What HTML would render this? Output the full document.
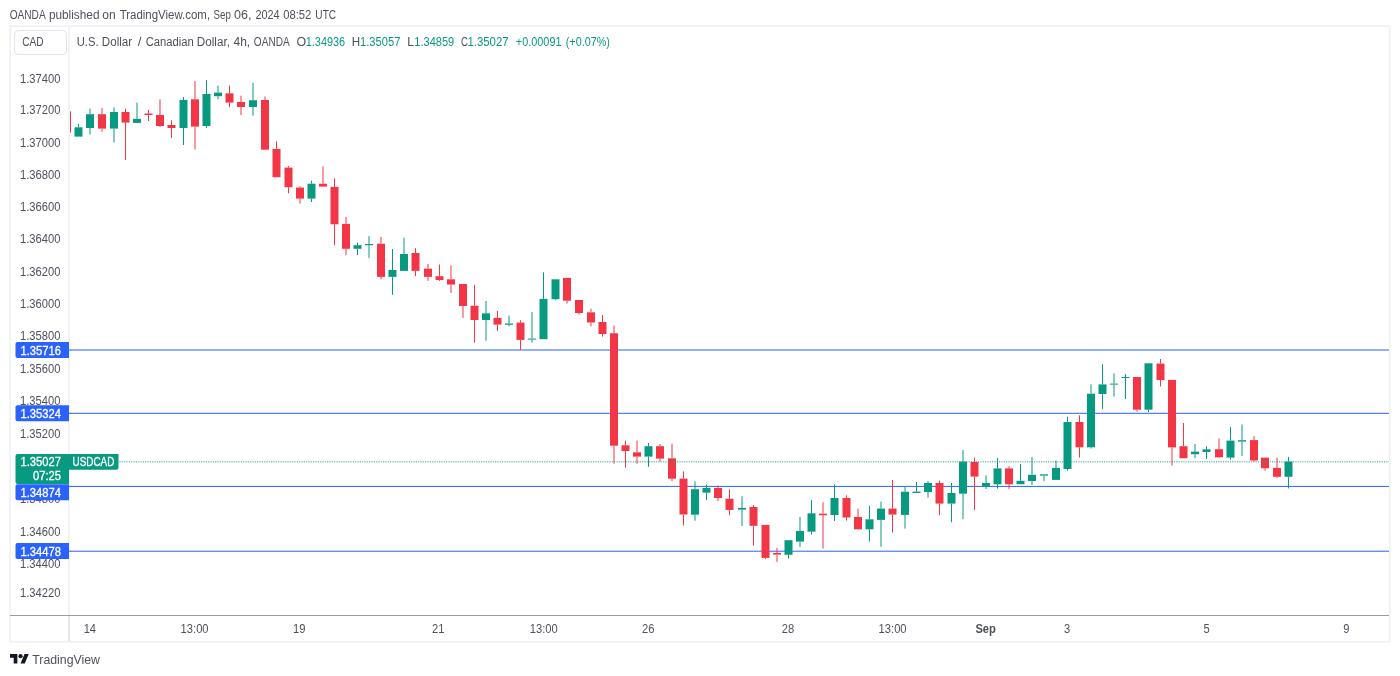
<!DOCTYPE html>
<html><head><meta charset="utf-8"><style>
html,body{margin:0;padding:0;background:#fff;width:1400px;height:676px;overflow:hidden}
svg{display:block;will-change:transform}
text{font-family:"Liberation Sans", Arial, sans-serif;}
</style></head><body>
<svg width="1400" height="676" viewBox="0 0 1400 676">
<rect width="1400" height="676" fill="#fff"/>
<g fill="#4e515c">
<text x="9.64" y="19.30" font-size="12" textLength="36.07" lengthAdjust="spacingAndGlyphs">OANDA</text><text x="48.93" y="19.30" font-size="12" textLength="50.55" lengthAdjust="spacingAndGlyphs">published</text><text x="102.32" y="19.30" font-size="12" textLength="13.39" lengthAdjust="spacingAndGlyphs">on</text><text x="119.67" y="19.30" font-size="12" textLength="90.44" lengthAdjust="spacingAndGlyphs">TradingView.com,</text><text x="213.56" y="19.30" font-size="12" textLength="17.22" lengthAdjust="spacingAndGlyphs">Sep</text><text x="234.10" y="19.30" font-size="12" textLength="17.43" lengthAdjust="spacingAndGlyphs">06,</text><text x="255.46" y="19.30" font-size="12" textLength="24.17" lengthAdjust="spacingAndGlyphs">2024</text><text x="283.15" y="19.30" font-size="12" textLength="28.14" lengthAdjust="spacingAndGlyphs">08:52</text><text x="315.34" y="19.30" font-size="12" textLength="20.82" lengthAdjust="spacingAndGlyphs">UTC</text>
</g>
<rect x="10.1" y="26.1" width="1379.7" height="615.7" fill="none" stroke="#eceef2" stroke-width="1.4"/>
<rect x="68.2" y="27" width="1.5" height="589" fill="#eeeff2"/>
<rect x="68.2" y="616" width="1.5" height="25" fill="#dcdee3"/>
<rect x="10" y="615" width="1379" height="1" fill="#989ba4"/>
<defs><clipPath id="ca"><rect x="70" y="27" width="1319" height="588"/></clipPath></defs>
<g clip-path="url(#ca)">
<rect x="70" y="349.5" width="1319" height="1" fill="#2962ff"/>
<rect x="70" y="412.8" width="1319" height="1" fill="#2962ff"/>
<rect x="70" y="485.9" width="1319" height="1" fill="#2962ff"/>
<rect x="70" y="550.7" width="1319" height="1" fill="#2962ff"/>
<rect x="63.0" y="111.3" width="8" height="21.3" fill="#f23645"/>
<rect x="78.0" y="124.0" width="1" height="3.3" fill="#089981"/>
<rect x="74.5" y="127.3" width="8" height="9.3" fill="#089981"/>
<rect x="89.5" y="108.6" width="1" height="5.6" fill="#089981"/>
<rect x="89.5" y="128.0" width="1" height="6.6" fill="#089981"/>
<rect x="86.0" y="114.2" width="8" height="13.8" fill="#089981"/>
<rect x="101.5" y="108.0" width="1" height="6.2" fill="#f23645"/>
<rect x="101.5" y="128.6" width="1" height="3.1" fill="#f23645"/>
<rect x="98.0" y="114.2" width="8" height="14.4" fill="#f23645"/>
<rect x="113.5" y="107.3" width="1" height="4.7" fill="#089981"/>
<rect x="113.5" y="128.6" width="1" height="14.0" fill="#089981"/>
<rect x="110.0" y="112.0" width="8" height="16.6" fill="#089981"/>
<rect x="125.0" y="108.6" width="1" height="3.4" fill="#f23645"/>
<rect x="125.0" y="122.6" width="1" height="37.3" fill="#f23645"/>
<rect x="121.5" y="112.0" width="8" height="10.6" fill="#f23645"/>
<rect x="136.5" y="102.6" width="1" height="16.3" fill="#089981"/>
<rect x="133.0" y="118.9" width="8" height="4.0" fill="#089981"/>
<rect x="148.0" y="110.0" width="1" height="3.5" fill="#f23645"/>
<rect x="148.0" y="115.0" width="1" height="6.0" fill="#f23645"/>
<rect x="144.5" y="113.5" width="8" height="1.5" fill="#f23645"/>
<rect x="159.5" y="99.3" width="1" height="15.7" fill="#f23645"/>
<rect x="159.5" y="126.0" width="1" height="1.0" fill="#f23645"/>
<rect x="156.0" y="115.0" width="8" height="11.0" fill="#f23645"/>
<rect x="171.0" y="120.3" width="1" height="4.7" fill="#f23645"/>
<rect x="171.0" y="128.0" width="1" height="9.9" fill="#f23645"/>
<rect x="167.5" y="125.0" width="8" height="3.0" fill="#f23645"/>
<rect x="183.0" y="97.0" width="1" height="3.0" fill="#089981"/>
<rect x="183.0" y="128.0" width="1" height="17.0" fill="#089981"/>
<rect x="179.5" y="100.0" width="8" height="28.0" fill="#089981"/>
<rect x="194.5" y="81.0" width="1" height="18.3" fill="#f23645"/>
<rect x="194.5" y="126.6" width="1" height="22.9" fill="#f23645"/>
<rect x="191.0" y="99.3" width="8" height="27.3" fill="#f23645"/>
<rect x="206.0" y="80.0" width="1" height="14.0" fill="#089981"/>
<rect x="206.0" y="126.0" width="1" height="2.0" fill="#089981"/>
<rect x="202.5" y="94.0" width="8" height="32.0" fill="#089981"/>
<rect x="217.5" y="85.6" width="1" height="7.0" fill="#089981"/>
<rect x="217.5" y="96.2" width="1" height="3.1" fill="#089981"/>
<rect x="214.0" y="92.6" width="8" height="3.6" fill="#089981"/>
<rect x="229.0" y="85.6" width="1" height="7.7" fill="#f23645"/>
<rect x="229.0" y="102.6" width="1" height="4.7" fill="#f23645"/>
<rect x="225.5" y="93.3" width="8" height="9.3" fill="#f23645"/>
<rect x="240.5" y="95.7" width="1" height="6.3" fill="#f23645"/>
<rect x="240.5" y="107.0" width="1" height="7.9" fill="#f23645"/>
<rect x="237.0" y="102.0" width="8" height="5.0" fill="#f23645"/>
<rect x="252.5" y="82.7" width="1" height="17.5" fill="#089981"/>
<rect x="252.5" y="107.0" width="1" height="8.7" fill="#089981"/>
<rect x="249.0" y="100.2" width="8" height="6.8" fill="#089981"/>
<rect x="264.5" y="96.5" width="1" height="3.5" fill="#f23645"/>
<rect x="261.0" y="100.0" width="8" height="49.7" fill="#f23645"/>
<rect x="276.0" y="141.3" width="1" height="7.6" fill="#f23645"/>
<rect x="272.5" y="148.9" width="8" height="28.3" fill="#f23645"/>
<rect x="288.0" y="166.0" width="1" height="1.6" fill="#f23645"/>
<rect x="288.0" y="187.2" width="1" height="6.1" fill="#f23645"/>
<rect x="284.5" y="167.6" width="8" height="19.6" fill="#f23645"/>
<rect x="299.5" y="186.2" width="1" height="1.4" fill="#f23645"/>
<rect x="299.5" y="198.6" width="1" height="5.0" fill="#f23645"/>
<rect x="296.0" y="187.6" width="8" height="11.0" fill="#f23645"/>
<rect x="311.0" y="180.6" width="1" height="3.1" fill="#089981"/>
<rect x="311.0" y="198.6" width="1" height="3.4" fill="#089981"/>
<rect x="307.5" y="183.7" width="8" height="14.9" fill="#089981"/>
<rect x="322.5" y="166.5" width="1" height="17.2" fill="#f23645"/>
<rect x="319.0" y="183.7" width="8" height="2.9" fill="#f23645"/>
<rect x="334.0" y="178.3" width="1" height="8.6" fill="#f23645"/>
<rect x="334.0" y="224.3" width="1" height="20.9" fill="#f23645"/>
<rect x="330.5" y="186.9" width="8" height="37.4" fill="#f23645"/>
<rect x="345.5" y="216.9" width="1" height="7.0" fill="#f23645"/>
<rect x="345.5" y="248.8" width="1" height="6.4" fill="#f23645"/>
<rect x="342.0" y="223.9" width="8" height="24.9" fill="#f23645"/>
<rect x="357.0" y="242.6" width="1" height="2.6" fill="#089981"/>
<rect x="357.0" y="248.8" width="1" height="6.4" fill="#089981"/>
<rect x="353.5" y="245.2" width="8" height="3.6" fill="#089981"/>
<rect x="368.5" y="236.2" width="1" height="7.8" fill="#089981"/>
<rect x="368.5" y="245.2" width="1" height="12.7" fill="#089981"/>
<rect x="365.0" y="244.0" width="8" height="1.2" fill="#089981"/>
<rect x="380.5" y="236.9" width="1" height="6.8" fill="#f23645"/>
<rect x="380.5" y="276.9" width="1" height="2.4" fill="#f23645"/>
<rect x="377.0" y="243.7" width="8" height="33.2" fill="#f23645"/>
<rect x="392.0" y="249.0" width="1" height="21.0" fill="#089981"/>
<rect x="392.0" y="276.9" width="1" height="17.9" fill="#089981"/>
<rect x="388.5" y="270.0" width="8" height="6.9" fill="#089981"/>
<rect x="403.5" y="237.7" width="1" height="16.3" fill="#089981"/>
<rect x="400.0" y="254.0" width="8" height="16.9" fill="#089981"/>
<rect x="415.0" y="248.2" width="1" height="4.8" fill="#f23645"/>
<rect x="415.0" y="270.9" width="1" height="5.3" fill="#f23645"/>
<rect x="411.5" y="253.0" width="8" height="17.9" fill="#f23645"/>
<rect x="427.5" y="264.0" width="1" height="4.6" fill="#f23645"/>
<rect x="427.5" y="276.9" width="1" height="4.0" fill="#f23645"/>
<rect x="424.0" y="268.6" width="8" height="8.3" fill="#f23645"/>
<rect x="439.0" y="264.6" width="1" height="11.6" fill="#f23645"/>
<rect x="439.0" y="280.0" width="1" height="0.9" fill="#f23645"/>
<rect x="435.5" y="276.2" width="8" height="3.8" fill="#f23645"/>
<rect x="450.5" y="265.3" width="1" height="14.0" fill="#f23645"/>
<rect x="450.5" y="284.6" width="1" height="8.4" fill="#f23645"/>
<rect x="447.0" y="279.3" width="8" height="5.3" fill="#f23645"/>
<rect x="462.5" y="306.0" width="1" height="11.8" fill="#f23645"/>
<rect x="459.0" y="284.0" width="8" height="22.0" fill="#f23645"/>
<rect x="474.0" y="284.9" width="1" height="20.8" fill="#f23645"/>
<rect x="474.0" y="320.0" width="1" height="22.6" fill="#f23645"/>
<rect x="470.5" y="305.7" width="8" height="14.3" fill="#f23645"/>
<rect x="485.5" y="301.0" width="1" height="12.3" fill="#089981"/>
<rect x="485.5" y="320.0" width="1" height="20.8" fill="#089981"/>
<rect x="482.0" y="313.3" width="8" height="6.7" fill="#089981"/>
<rect x="497.0" y="311.0" width="1" height="6.9" fill="#f23645"/>
<rect x="497.0" y="324.6" width="1" height="6.4" fill="#f23645"/>
<rect x="493.5" y="317.9" width="8" height="6.7" fill="#f23645"/>
<rect x="508.5" y="315.5" width="1" height="8.0" fill="#089981"/>
<rect x="508.5" y="324.8" width="1" height="1.4" fill="#089981"/>
<rect x="505.0" y="323.5" width="8" height="1.3" fill="#089981"/>
<rect x="520.0" y="320.2" width="1" height="2.4" fill="#f23645"/>
<rect x="520.0" y="339.9" width="1" height="10.0" fill="#f23645"/>
<rect x="516.5" y="322.6" width="8" height="17.3" fill="#f23645"/>
<rect x="531.5" y="312.0" width="1" height="26.6" fill="#089981"/>
<rect x="531.5" y="339.6" width="1" height="3.0" fill="#089981"/>
<rect x="528.0" y="338.6" width="8" height="1.0" fill="#089981"/>
<rect x="543.0" y="272.4" width="1" height="26.5" fill="#089981"/>
<rect x="539.5" y="298.9" width="8" height="40.3" fill="#089981"/>
<rect x="555.0" y="299.2" width="1" height="0.8" fill="#089981"/>
<rect x="551.5" y="279.3" width="8" height="19.9" fill="#089981"/>
<rect x="566.5" y="300.7" width="1" height="2.9" fill="#f23645"/>
<rect x="563.0" y="277.9" width="8" height="22.8" fill="#f23645"/>
<rect x="578.5" y="313.0" width="1" height="1.5" fill="#f23645"/>
<rect x="575.0" y="300.0" width="8" height="13.0" fill="#f23645"/>
<rect x="590.5" y="308.7" width="1" height="3.6" fill="#f23645"/>
<rect x="590.5" y="322.5" width="1" height="3.8" fill="#f23645"/>
<rect x="587.0" y="312.3" width="8" height="10.2" fill="#f23645"/>
<rect x="602.0" y="315.0" width="1" height="7.0" fill="#f23645"/>
<rect x="602.0" y="334.0" width="1" height="2.6" fill="#f23645"/>
<rect x="598.5" y="322.0" width="8" height="12.0" fill="#f23645"/>
<rect x="613.5" y="325.6" width="1" height="7.6" fill="#f23645"/>
<rect x="613.5" y="445.7" width="1" height="17.9" fill="#f23645"/>
<rect x="610.0" y="333.2" width="8" height="112.5" fill="#f23645"/>
<rect x="625.0" y="440.6" width="1" height="4.7" fill="#f23645"/>
<rect x="625.0" y="451.0" width="1" height="16.6" fill="#f23645"/>
<rect x="621.5" y="445.3" width="8" height="5.7" fill="#f23645"/>
<rect x="636.5" y="440.6" width="1" height="11.7" fill="#f23645"/>
<rect x="636.5" y="456.6" width="1" height="7.0" fill="#f23645"/>
<rect x="633.0" y="452.3" width="8" height="4.3" fill="#f23645"/>
<rect x="648.0" y="443.0" width="1" height="3.2" fill="#089981"/>
<rect x="648.0" y="456.6" width="1" height="10.2" fill="#089981"/>
<rect x="644.5" y="446.2" width="8" height="10.4" fill="#089981"/>
<rect x="659.5" y="444.0" width="1" height="2.2" fill="#f23645"/>
<rect x="659.5" y="458.6" width="1" height="2.9" fill="#f23645"/>
<rect x="656.0" y="446.2" width="8" height="12.4" fill="#f23645"/>
<rect x="671.5" y="443.7" width="1" height="14.6" fill="#f23645"/>
<rect x="671.5" y="478.7" width="1" height="2.5" fill="#f23645"/>
<rect x="668.0" y="458.3" width="8" height="20.4" fill="#f23645"/>
<rect x="683.0" y="471.4" width="1" height="7.2" fill="#f23645"/>
<rect x="683.0" y="514.5" width="1" height="11.1" fill="#f23645"/>
<rect x="679.5" y="478.6" width="8" height="35.9" fill="#f23645"/>
<rect x="694.5" y="481.4" width="1" height="7.8" fill="#089981"/>
<rect x="694.5" y="514.7" width="1" height="6.0" fill="#089981"/>
<rect x="691.0" y="489.2" width="8" height="25.5" fill="#089981"/>
<rect x="706.0" y="484.7" width="1" height="3.2" fill="#089981"/>
<rect x="706.0" y="492.7" width="1" height="7.2" fill="#089981"/>
<rect x="702.5" y="487.9" width="8" height="4.8" fill="#089981"/>
<rect x="717.5" y="485.6" width="1" height="2.3" fill="#f23645"/>
<rect x="717.5" y="498.0" width="1" height="3.2" fill="#f23645"/>
<rect x="714.0" y="487.9" width="8" height="10.1" fill="#f23645"/>
<rect x="729.0" y="489.4" width="1" height="9.3" fill="#f23645"/>
<rect x="729.0" y="509.9" width="1" height="5.4" fill="#f23645"/>
<rect x="725.5" y="498.7" width="8" height="11.2" fill="#f23645"/>
<rect x="741.5" y="496.3" width="1" height="11.6" fill="#089981"/>
<rect x="741.5" y="509.6" width="1" height="16.4" fill="#089981"/>
<rect x="738.0" y="507.9" width="8" height="1.7" fill="#089981"/>
<rect x="753.0" y="505.2" width="1" height="1.8" fill="#f23645"/>
<rect x="753.0" y="525.8" width="1" height="19.8" fill="#f23645"/>
<rect x="749.5" y="507.0" width="8" height="18.8" fill="#f23645"/>
<rect x="765.0" y="557.9" width="1" height="1.3" fill="#f23645"/>
<rect x="761.5" y="524.9" width="8" height="33.0" fill="#f23645"/>
<rect x="776.5" y="547.9" width="1" height="5.1" fill="#f23645"/>
<rect x="776.5" y="554.6" width="1" height="7.3" fill="#f23645"/>
<rect x="773.0" y="553.0" width="8" height="1.6" fill="#f23645"/>
<rect x="788.0" y="554.8" width="1" height="3.8" fill="#089981"/>
<rect x="784.5" y="540.2" width="8" height="14.6" fill="#089981"/>
<rect x="799.5" y="516.9" width="1" height="14.1" fill="#089981"/>
<rect x="799.5" y="541.6" width="1" height="5.4" fill="#089981"/>
<rect x="796.0" y="531.0" width="8" height="10.6" fill="#089981"/>
<rect x="811.0" y="500.0" width="1" height="13.3" fill="#089981"/>
<rect x="811.0" y="531.7" width="1" height="2.9" fill="#089981"/>
<rect x="807.5" y="513.3" width="8" height="18.4" fill="#089981"/>
<rect x="822.5" y="502.2" width="1" height="11.5" fill="#f23645"/>
<rect x="822.5" y="515.3" width="1" height="33.3" fill="#f23645"/>
<rect x="819.0" y="513.7" width="8" height="1.6" fill="#f23645"/>
<rect x="834.0" y="484.4" width="1" height="13.6" fill="#089981"/>
<rect x="834.0" y="515.0" width="1" height="5.9" fill="#089981"/>
<rect x="830.5" y="498.0" width="8" height="17.0" fill="#089981"/>
<rect x="846.0" y="495.3" width="1" height="2.7" fill="#f23645"/>
<rect x="846.0" y="517.5" width="1" height="3.1" fill="#f23645"/>
<rect x="842.5" y="498.0" width="8" height="19.5" fill="#f23645"/>
<rect x="857.5" y="508.6" width="1" height="8.4" fill="#f23645"/>
<rect x="857.5" y="529.3" width="1" height="0.3" fill="#f23645"/>
<rect x="854.0" y="517.0" width="8" height="12.3" fill="#f23645"/>
<rect x="869.0" y="506.0" width="1" height="13.3" fill="#089981"/>
<rect x="869.0" y="529.3" width="1" height="12.2" fill="#089981"/>
<rect x="865.5" y="519.3" width="8" height="10.0" fill="#089981"/>
<rect x="880.5" y="501.6" width="1" height="7.0" fill="#089981"/>
<rect x="880.5" y="519.9" width="1" height="26.9" fill="#089981"/>
<rect x="877.0" y="508.6" width="8" height="11.3" fill="#089981"/>
<rect x="892.0" y="480.0" width="1" height="28.6" fill="#f23645"/>
<rect x="892.0" y="514.6" width="1" height="18.0" fill="#f23645"/>
<rect x="888.5" y="508.6" width="8" height="6.0" fill="#f23645"/>
<rect x="904.5" y="486.6" width="1" height="5.1" fill="#089981"/>
<rect x="904.5" y="514.9" width="1" height="13.7" fill="#089981"/>
<rect x="901.0" y="491.7" width="8" height="23.2" fill="#089981"/>
<rect x="916.0" y="482.0" width="1" height="9.6" fill="#089981"/>
<rect x="912.5" y="491.6" width="8" height="1.4" fill="#089981"/>
<rect x="927.5" y="481.0" width="1" height="2.0" fill="#089981"/>
<rect x="927.5" y="492.0" width="1" height="5.6" fill="#089981"/>
<rect x="924.0" y="483.0" width="8" height="9.0" fill="#089981"/>
<rect x="939.0" y="480.6" width="1" height="2.4" fill="#f23645"/>
<rect x="939.0" y="503.6" width="1" height="11.6" fill="#f23645"/>
<rect x="935.5" y="483.0" width="8" height="20.6" fill="#f23645"/>
<rect x="951.0" y="483.0" width="1" height="10.0" fill="#089981"/>
<rect x="951.0" y="503.6" width="1" height="18.6" fill="#089981"/>
<rect x="947.5" y="493.0" width="8" height="10.6" fill="#089981"/>
<rect x="962.5" y="450.0" width="1" height="11.6" fill="#089981"/>
<rect x="962.5" y="493.7" width="1" height="25.5" fill="#089981"/>
<rect x="959.0" y="461.6" width="8" height="32.1" fill="#089981"/>
<rect x="974.0" y="457.6" width="1" height="4.4" fill="#f23645"/>
<rect x="974.0" y="476.6" width="1" height="33.3" fill="#f23645"/>
<rect x="970.5" y="462.0" width="8" height="14.6" fill="#f23645"/>
<rect x="985.5" y="475.3" width="1" height="7.7" fill="#089981"/>
<rect x="985.5" y="486.6" width="1" height="2.4" fill="#089981"/>
<rect x="982.0" y="483.0" width="8" height="3.6" fill="#089981"/>
<rect x="997.0" y="458.0" width="1" height="10.4" fill="#089981"/>
<rect x="997.0" y="484.3" width="1" height="4.3" fill="#089981"/>
<rect x="993.5" y="468.4" width="8" height="15.9" fill="#089981"/>
<rect x="1008.5" y="466.2" width="1" height="2.2" fill="#f23645"/>
<rect x="1008.5" y="484.3" width="1" height="4.7" fill="#f23645"/>
<rect x="1005.0" y="468.4" width="8" height="15.9" fill="#f23645"/>
<rect x="1020.0" y="463.9" width="1" height="16.9" fill="#089981"/>
<rect x="1016.5" y="480.8" width="8" height="3.4" fill="#089981"/>
<rect x="1031.5" y="457.0" width="1" height="17.8" fill="#089981"/>
<rect x="1031.5" y="481.0" width="1" height="4.0" fill="#089981"/>
<rect x="1028.0" y="474.8" width="8" height="6.2" fill="#089981"/>
<rect x="1043.5" y="475.6" width="1" height="5.6" fill="#089981"/>
<rect x="1040.0" y="474.3" width="8" height="1.3" fill="#089981"/>
<rect x="1055.5" y="460.6" width="1" height="7.3" fill="#089981"/>
<rect x="1052.0" y="467.9" width="8" height="12.0" fill="#089981"/>
<rect x="1067.0" y="416.6" width="1" height="5.4" fill="#089981"/>
<rect x="1067.0" y="469.0" width="1" height="1.6" fill="#089981"/>
<rect x="1063.5" y="422.0" width="8" height="47.0" fill="#089981"/>
<rect x="1079.0" y="415.3" width="1" height="6.7" fill="#f23645"/>
<rect x="1079.0" y="447.3" width="1" height="10.2" fill="#f23645"/>
<rect x="1075.5" y="422.0" width="8" height="25.3" fill="#f23645"/>
<rect x="1090.5" y="384.4" width="1" height="9.3" fill="#089981"/>
<rect x="1090.5" y="447.3" width="1" height="1.3" fill="#089981"/>
<rect x="1087.0" y="393.7" width="8" height="53.6" fill="#089981"/>
<rect x="1102.0" y="364.3" width="1" height="20.1" fill="#089981"/>
<rect x="1102.0" y="394.0" width="1" height="14.9" fill="#089981"/>
<rect x="1098.5" y="384.4" width="8" height="9.6" fill="#089981"/>
<rect x="1113.5" y="373.3" width="1" height="10.3" fill="#089981"/>
<rect x="1113.5" y="384.6" width="1" height="12.0" fill="#089981"/>
<rect x="1110.0" y="383.6" width="8" height="1.0" fill="#089981"/>
<rect x="1125.0" y="374.0" width="1" height="3.0" fill="#089981"/>
<rect x="1125.0" y="378.0" width="1" height="20.9" fill="#089981"/>
<rect x="1121.5" y="377.0" width="8" height="1.0" fill="#089981"/>
<rect x="1136.5" y="409.7" width="1" height="2.0" fill="#f23645"/>
<rect x="1133.0" y="377.0" width="8" height="32.7" fill="#f23645"/>
<rect x="1148.0" y="409.7" width="1" height="2.3" fill="#089981"/>
<rect x="1144.5" y="363.3" width="8" height="46.4" fill="#089981"/>
<rect x="1160.0" y="359.0" width="1" height="4.6" fill="#f23645"/>
<rect x="1160.0" y="380.0" width="1" height="6.4" fill="#f23645"/>
<rect x="1156.5" y="363.6" width="8" height="16.4" fill="#f23645"/>
<rect x="1171.5" y="447.4" width="1" height="18.1" fill="#f23645"/>
<rect x="1168.0" y="379.9" width="8" height="67.5" fill="#f23645"/>
<rect x="1183.0" y="423.0" width="1" height="23.2" fill="#f23645"/>
<rect x="1179.5" y="446.2" width="8" height="12.0" fill="#f23645"/>
<rect x="1194.5" y="444.0" width="1" height="7.6" fill="#089981"/>
<rect x="1194.5" y="454.2" width="1" height="4.0" fill="#089981"/>
<rect x="1191.0" y="451.6" width="8" height="2.6" fill="#089981"/>
<rect x="1206.0" y="446.2" width="1" height="3.1" fill="#089981"/>
<rect x="1206.0" y="452.0" width="1" height="6.9" fill="#089981"/>
<rect x="1202.5" y="449.3" width="8" height="2.7" fill="#089981"/>
<rect x="1218.5" y="438.5" width="1" height="10.7" fill="#f23645"/>
<rect x="1218.5" y="457.3" width="1" height="0.7" fill="#f23645"/>
<rect x="1215.0" y="449.2" width="8" height="8.1" fill="#f23645"/>
<rect x="1230.0" y="427.0" width="1" height="13.6" fill="#089981"/>
<rect x="1230.0" y="457.6" width="1" height="2.0" fill="#089981"/>
<rect x="1226.5" y="440.6" width="8" height="17.0" fill="#089981"/>
<rect x="1241.5" y="424.5" width="1" height="15.7" fill="#089981"/>
<rect x="1241.5" y="441.6" width="1" height="14.4" fill="#089981"/>
<rect x="1238.0" y="440.2" width="8" height="1.4" fill="#089981"/>
<rect x="1253.5" y="436.0" width="1" height="4.1" fill="#f23645"/>
<rect x="1253.5" y="460.5" width="1" height="1.1" fill="#f23645"/>
<rect x="1250.0" y="440.1" width="8" height="20.4" fill="#f23645"/>
<rect x="1264.5" y="468.3" width="1" height="2.3" fill="#f23645"/>
<rect x="1261.0" y="457.6" width="8" height="10.7" fill="#f23645"/>
<rect x="1276.5" y="457.6" width="1" height="10.3" fill="#f23645"/>
<rect x="1276.5" y="476.8" width="1" height="1.2" fill="#f23645"/>
<rect x="1273.0" y="467.9" width="8" height="8.9" fill="#f23645"/>
<rect x="1288.0" y="456.9" width="1" height="4.7" fill="#089981"/>
<rect x="1288.0" y="476.8" width="1" height="11.6" fill="#089981"/>
<rect x="1284.5" y="461.6" width="8" height="15.2" fill="#089981"/>
<line x1="70.5" y1="461.8" x2="1389" y2="461.8" stroke="#089981" stroke-opacity="0.62" stroke-width="1.4" stroke-dasharray="1.1 1.233"/>
</g>
<g fill="#4e515c">
<text x="20.06" y="82.65" font-size="12" textLength="40.43" lengthAdjust="spacingAndGlyphs">1.37400</text>
<text x="20.06" y="114.35" font-size="12" textLength="40.43" lengthAdjust="spacingAndGlyphs">1.37200</text>
<text x="20.06" y="146.65" font-size="12" textLength="40.43" lengthAdjust="spacingAndGlyphs">1.37000</text>
<text x="20.06" y="178.85" font-size="12" textLength="40.43" lengthAdjust="spacingAndGlyphs">1.36800</text>
<text x="20.06" y="210.75" font-size="12" textLength="40.43" lengthAdjust="spacingAndGlyphs">1.36600</text>
<text x="20.06" y="243.25" font-size="12" textLength="40.43" lengthAdjust="spacingAndGlyphs">1.36400</text>
<text x="20.06" y="275.85" font-size="12" textLength="40.43" lengthAdjust="spacingAndGlyphs">1.36200</text>
<text x="20.06" y="308.05" font-size="12" textLength="40.43" lengthAdjust="spacingAndGlyphs">1.36000</text>
<text x="20.06" y="340.25" font-size="12" textLength="40.43" lengthAdjust="spacingAndGlyphs">1.35800</text>
<text x="20.06" y="373.15" font-size="12" textLength="40.43" lengthAdjust="spacingAndGlyphs">1.35600</text>
<text x="20.06" y="405.25" font-size="12" textLength="40.43" lengthAdjust="spacingAndGlyphs">1.35400</text>
<text x="20.06" y="437.95" font-size="12" textLength="40.43" lengthAdjust="spacingAndGlyphs">1.35200</text>
<text x="20.06" y="503.25" font-size="12" textLength="40.43" lengthAdjust="spacingAndGlyphs">1.34800</text>
<text x="20.06" y="535.95" font-size="12" textLength="40.43" lengthAdjust="spacingAndGlyphs">1.34600</text>
<text x="20.06" y="568.25" font-size="12" textLength="40.43" lengthAdjust="spacingAndGlyphs">1.34400</text>
<text x="20.06" y="597.45" font-size="12" textLength="40.43" lengthAdjust="spacingAndGlyphs">1.34220</text>
</g>
<rect x="68.5" y="349.5" width="2" height="1" fill="#2962ff"/><path d="M69 342.0 H17.5 a2 2 0 0 0 -2 2 V356.0 a2 2 0 0 0 2 2 H69 Z" fill="#2962ff"/><text x="20.46" y="354.85" font-size="12" textLength="40.43" lengthAdjust="spacingAndGlyphs" fill="#fff" stroke="#fff" stroke-width="0.3">1.35716</text>
<rect x="68.5" y="412.8" width="2" height="1" fill="#2962ff"/><path d="M69 405.3 H17.5 a2 2 0 0 0 -2 2 V419.3 a2 2 0 0 0 2 2 H69 Z" fill="#2962ff"/><text x="20.46" y="418.15" font-size="12" textLength="40.43" lengthAdjust="spacingAndGlyphs" fill="#fff" stroke="#fff" stroke-width="0.3">1.35324</text>
<rect x="68.5" y="485.9" width="2" height="1" fill="#2962ff"/><path d="M69 484.2 H17.5 a2 2 0 0 0 -2 2 V498.2 a2 2 0 0 0 2 2 H69 Z" fill="#2962ff"/><text x="20.46" y="497.05" font-size="12" textLength="40.43" lengthAdjust="spacingAndGlyphs" fill="#fff" stroke="#fff" stroke-width="0.3">1.34874</text>
<rect x="68.5" y="550.7" width="2" height="1" fill="#2962ff"/><path d="M69 543.0 H17.5 a2 2 0 0 0 -2 2 V557.0 a2 2 0 0 0 2 2 H69 Z" fill="#2962ff"/><text x="20.46" y="555.85" font-size="12" textLength="40.43" lengthAdjust="spacingAndGlyphs" fill="#fff" stroke="#fff" stroke-width="0.3">1.34478</text>
<path d="M118.5 454 V467.8 a2 2 0 0 1 -2 2 H69 V484 H17.5 a2 2 0 0 1 -2 -2 V456 a2 2 0 0 1 2 -2 Z" fill="#089981"/>
<text x="20.56" y="465.70" font-size="12" textLength="40.43" lengthAdjust="spacingAndGlyphs" fill="#fff" stroke="#fff" stroke-width="0.3">1.35027</text>
<text x="33.00" y="479.70" font-size="12" textLength="27.99" lengthAdjust="spacingAndGlyphs" fill="#fff" stroke="#fff" stroke-width="0.3">07:25</text>
<text x="72.56" y="465.70" font-size="12" textLength="41.82" lengthAdjust="spacingAndGlyphs" fill="#fff" stroke="#fff" stroke-width="0.3">USDCAD</text>
<g fill="#4e515c">
<text x="83.64" y="633.00" font-size="12" textLength="12.44" lengthAdjust="spacingAndGlyphs">14</text>
<text x="180.60" y="633.00" font-size="12" textLength="27.99" lengthAdjust="spacingAndGlyphs">13:00</text>
<text x="293.03" y="633.00" font-size="12" textLength="12.44" lengthAdjust="spacingAndGlyphs">19</text>
<text x="432.06" y="633.00" font-size="12" textLength="12.44" lengthAdjust="spacingAndGlyphs">21</text>
<text x="529.70" y="633.00" font-size="12" textLength="27.99" lengthAdjust="spacingAndGlyphs">13:00</text>
<text x="642.04" y="633.00" font-size="12" textLength="12.44" lengthAdjust="spacingAndGlyphs">26</text>
<text x="781.74" y="633.00" font-size="12" textLength="12.44" lengthAdjust="spacingAndGlyphs">28</text>
<text x="878.60" y="633.00" font-size="12" textLength="27.99" lengthAdjust="spacingAndGlyphs">13:00</text>
<text x="975.39" y="633.00" font-size="12" textLength="20.51" lengthAdjust="spacingAndGlyphs" font-weight="bold">Sep</text>
<text x="1064.00" y="633.00" font-size="12" textLength="6.22" lengthAdjust="spacingAndGlyphs">3</text>
<text x="1203.50" y="633.00" font-size="12" textLength="6.22" lengthAdjust="spacingAndGlyphs">5</text>
<text x="1343.30" y="633.00" font-size="12" textLength="6.22" lengthAdjust="spacingAndGlyphs">9</text>
</g>
<rect x="14.5" y="30.5" width="52" height="24" rx="4" fill="#fff" stroke="#e0e3eb"/>
<g fill="#4e515c">
<text x="22.19" y="46.10" font-size="12" textLength="21.48" lengthAdjust="spacingAndGlyphs">CAD</text>
<text x="76.76" y="46.00" font-size="12" textLength="21.80" lengthAdjust="spacingAndGlyphs">U.S.</text><text x="101.87" y="46.00" font-size="12" textLength="30.33" lengthAdjust="spacingAndGlyphs">Dollar</text><text x="137.70" y="46.00" font-size="12" textLength="3.67" lengthAdjust="spacingAndGlyphs">/</text><text x="145.74" y="46.00" font-size="12" textLength="48.11" lengthAdjust="spacingAndGlyphs">Canadian</text><text x="196.76" y="46.00" font-size="12" textLength="33.19" lengthAdjust="spacingAndGlyphs">Dollar,</text><text x="233.46" y="46.00" font-size="12" textLength="16.73" lengthAdjust="spacingAndGlyphs">4h,</text><text x="253.85" y="46.00" font-size="12" textLength="35.87" lengthAdjust="spacingAndGlyphs">OANDA</text><text x="296.54" y="46.00" font-size="12" textLength="9.65" lengthAdjust="spacingAndGlyphs">O</text><text x="305.78" y="46.00" font-size="12" textLength="39.35" lengthAdjust="spacingAndGlyphs" fill="#089981">1.34936</text><text x="351.87" y="46.00" font-size="12" textLength="8.38" lengthAdjust="spacingAndGlyphs">H</text><text x="360.06" y="46.00" font-size="12" textLength="40.29" lengthAdjust="spacingAndGlyphs" fill="#089981">1.35057</text><text x="407.33" y="46.00" font-size="12" textLength="6.75" lengthAdjust="spacingAndGlyphs">L</text><text x="414.37" y="46.00" font-size="12" textLength="39.82" lengthAdjust="spacingAndGlyphs" fill="#089981">1.34859</text><text x="460.92" y="46.00" font-size="12" textLength="6.94" lengthAdjust="spacingAndGlyphs">C</text><text x="467.44" y="46.00" font-size="12" textLength="41.22" lengthAdjust="spacingAndGlyphs" fill="#089981">1.35027</text><text x="515.86" y="46.00" font-size="12" textLength="45.62" lengthAdjust="spacingAndGlyphs" fill="#089981">+0.00091</text><text x="565.75" y="46.00" font-size="12" textLength="44.10" lengthAdjust="spacingAndGlyphs" fill="#089981">(+0.07%)</text>
</g>
<g transform="translate(10 651.99) scale(0.527)" fill="#131722"><path d="M14 22H7V11H0V4h14v18zM28 22h-8l7.5-18h8L28 22z"/><circle cx="20" cy="8" r="4"/></g>
<g fill="#4e515c"><text x="32.25" y="663.70" font-size="12.3" textLength="67.72" lengthAdjust="spacingAndGlyphs">TradingView</text></g>
</svg>
</body></html>
